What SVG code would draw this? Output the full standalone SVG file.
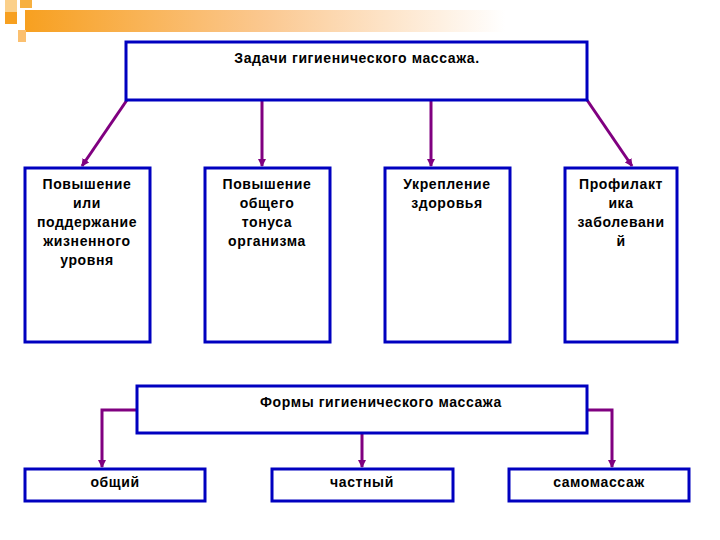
<svg xmlns="http://www.w3.org/2000/svg" width="720" height="540" viewBox="0 0 720 540">
<defs>
<linearGradient id="g" x1="0" x2="1" y1="0" y2="0"><stop offset="0" stop-color="#f7a020"/><stop offset="0.5" stop-color="#fbc890"/><stop offset="1" stop-color="#ffffff"/></linearGradient>
<marker id="a" markerWidth="8" markerHeight="8" refX="7" refY="4" orient="auto" markerUnits="userSpaceOnUse"><path d="M0,0 L8,4 L0,8 Z" fill="#800080"/></marker>
<style>
.b{fill:#fff;stroke:#0000c0;stroke-width:3}
.t{font-family:"Liberation Sans",Arial,sans-serif;font-size:14px;font-weight:bold;letter-spacing:0.6px;text-anchor:middle;fill:#000}
.c{fill:none;stroke:#800080;stroke-width:3}
</style>
</defs>
<rect width="720" height="540" fill="#fff"/>
<rect x="25" y="10" width="480" height="22" fill="url(#g)"/>
<rect x="5" y="0" width="12" height="12" fill="#fbd08a"/>
<rect x="20" y="0" width="12" height="8" fill="#f7b040"/>
<rect x="5" y="12" width="12" height="12" fill="#f7a020"/>
<rect x="18" y="30" width="8" height="12" fill="#fbc070"/>
<g id="connectors">
<line class="c" x1="127" y1="100" x2="82" y2="166" marker-end="url(#a)"/>
<line class="c" x1="262" y1="100" x2="262" y2="166" marker-end="url(#a)"/>
<line class="c" x1="431" y1="100" x2="431" y2="166" marker-end="url(#a)"/>
<line class="c" x1="587" y1="100" x2="632" y2="166" marker-end="url(#a)"/>
<polyline class="c" points="137,410 102,410 102,467" marker-end="url(#a)"/>
<line class="c" x1="362" y1="433" x2="362" y2="467" marker-end="url(#a)"/>
<polyline class="c" points="587,410 612,410 612,467" marker-end="url(#a)"/>
</g>
<g id="top"><rect class="b" x="126" y="42" width="461" height="58"/><text class="t" x="357" y="63">Задачи гигиенического массажа.</text></g>
<g id="n1"><rect class="b" x="25" y="168" width="125" height="174"/><text class="t"><tspan x="87" y="189">Повышение</tspan><tspan x="87" y="208">или</tspan><tspan x="87" y="227">поддержание</tspan><tspan x="87" y="246">жизненного</tspan><tspan x="87" y="265">уровня</tspan></text></g>
<g id="n2"><rect class="b" x="205" y="168" width="125" height="174"/><text class="t"><tspan x="267" y="189">Повышение</tspan><tspan x="267" y="208">общего</tspan><tspan x="267" y="227">тонуса</tspan><tspan x="267" y="246">организма</tspan></text></g>
<g id="n3"><rect class="b" x="385" y="168" width="125" height="174"/><text class="t"><tspan x="447" y="189">Укрепление</tspan><tspan x="447" y="208">здоровья</tspan></text></g>
<g id="n4"><rect class="b" x="565" y="168" width="112" height="174"/><text class="t"><tspan x="621" y="189">Профилакт</tspan><tspan x="621" y="208">ика</tspan><tspan x="621" y="227">заболевани</tspan><tspan x="621" y="246">й</tspan></text></g>
<g id="forms"><rect class="b" x="137" y="386" width="450" height="47"/><text class="t" x="381" y="407">Формы гигиенического массажа</text></g>
<g id="f1"><rect class="b" x="25" y="469" width="180" height="32"/><text class="t" x="115" y="487">общий</text></g>
<g id="f2"><rect class="b" x="272" y="469" width="181" height="32"/><text class="t" x="362" y="487">частный</text></g>
<g id="f3"><rect class="b" x="509" y="469" width="180" height="32"/><text class="t" x="599" y="487">самомассаж</text></g>
</svg>
